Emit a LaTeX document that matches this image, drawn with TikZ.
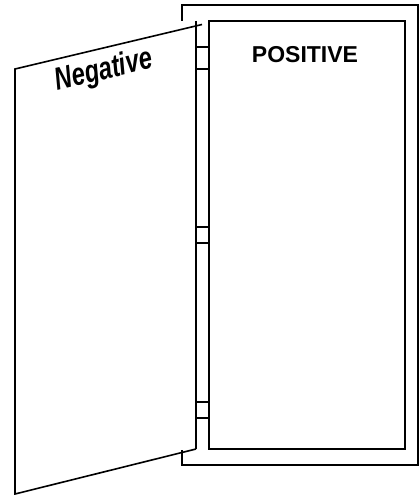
\documentclass[tikz,border=0pt]{standalone}
\usepackage{fontspec}
\setmainfont{Liberation Sans}
\begin{document}
\begin{tikzpicture}[x=1pt,y=-1pt,
  edge/.style={line width=1.6pt,line join=miter},
  lbl/.style={inner sep=0pt,anchor=base,font=\bfseries\fontsize{23}{23}\selectfont}]
\useasboundingbox (0,0) rectangle (420,495);
% outer frame
\draw[edge] (182,21) -- (182,5) -- (418,5) -- (418,465) -- (182,465) -- (182,450);
% inner panel
\draw[edge] (209,21) rectangle (405,449);
% hinge strip
\coordinate (ht) at (196,21);
\coordinate (hb) at (196,449);
\draw[edge] (ht) -- (hb);
\foreach \y in {47,69,227,243,402,418}
  \draw[edge] (196,\y) -- (209,\y);
% door panel
\coordinate (dtr) at (202,24.5);
\coordinate (dtl) at (15,69);
\coordinate (dbl) at (15,494);
\draw[edge] (dtr) -- (dtl) -- (dbl) -- (hb);
% labels
\node[lbl,rotate=13.5,yscale=1.38,xscale=1.03,font=\bfseries\itshape\fontsize{23}{23}\selectfont] (neg) at (106,79) {Negative};
\node[lbl] (pos) at (305,63) {POSITIVE};
\end{tikzpicture}
\end{document}
